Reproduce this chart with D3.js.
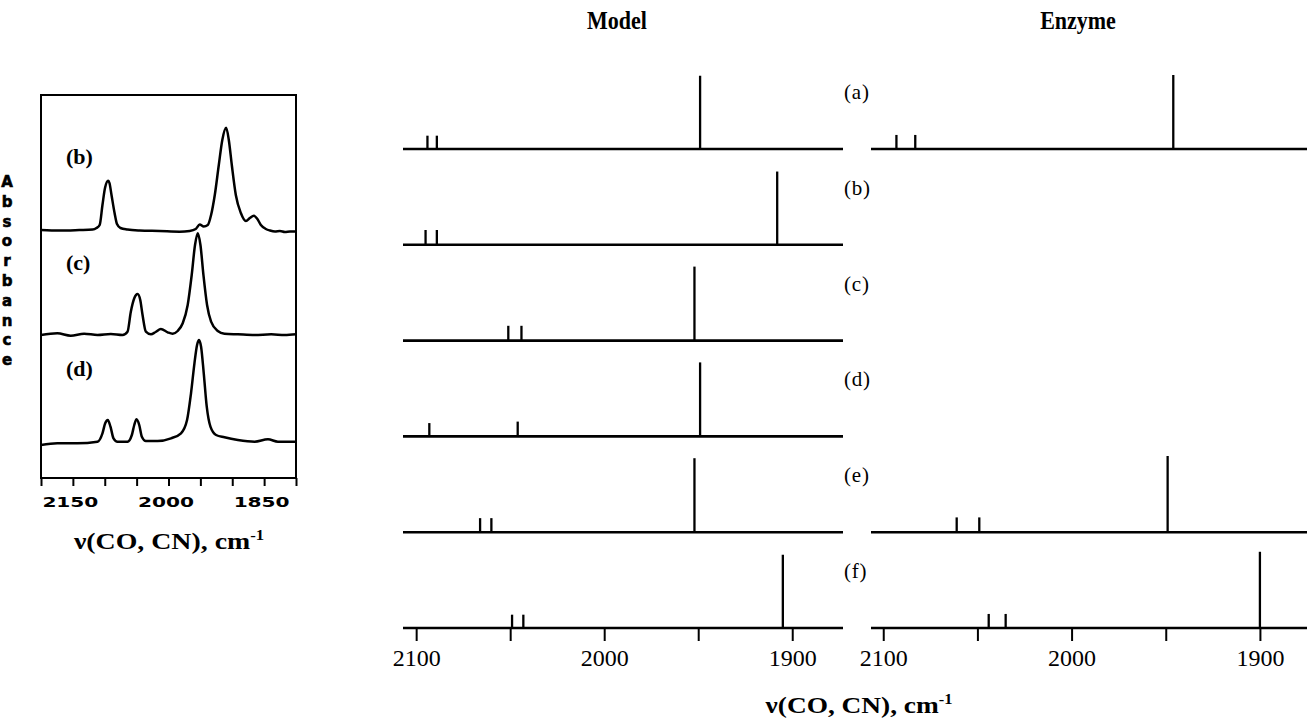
<!DOCTYPE html>
<html>
<head>
<meta charset="utf-8">
<script src="https://cdn.jsdelivr.net/npm/d3@7"></script>
<style>
  html, body { margin: 0; padding: 0; background: #fff; }
  svg { display: block; }
</style>
</head>
<body>
<script>
// ---------------- DATA ----------------
// Right panels: stick spectra (wavenumbers, cm-1) and relative intensities
const rowLabels = ["(a)", "(b)", "(c)", "(d)", "(e)", "(f)"];

const modelPeaks = [
  [2094, 2089, 1949],
  [2095, 2089, 1908],
  [2051, 2044, 1952],
  [2093, 2046, 1949],
  [2066, 2060, 1952],
  [2049, 2043, 1905]
];
const modelIntensities = [
  [0.18, 0.18, 0.99],
  [0.20, 0.20, 0.99],
  [0.20, 0.20, 1.00],
  [0.18, 0.20, 1.00],
  [0.19, 0.19, 1.00],
  [0.18, 0.18, 0.99]
];

const enzymePeaks = [
  [2093, 2083, 1946],
  [],
  [],
  [],
  [2061, 2049, 1949],
  [2044, 2035, 1900]
];
const enzymeIntensities = [
  [0.19, 0.19, 1.00],
  [],
  [],
  [],
  [0.20, 0.20, 1.03],
  [0.19, 0.19, 1.03]
];

const stickTicks = [2100, 2050, 2000, 1950, 1900];
const stickTickLabels = [2100, 2000, 1900];

// Left panel: measured IR spectra (wavenumber, absorbance above own baseline, arb. units)
const specLabels = ["(b)", "(c)", "(d)"];
const specOffsets = [248, 142, 36];

const specB_wn = [2200, 2171, 2140, 2119, 2113, 2108, 2103.6, 2099.6, 2094.6, 2092.6, 2089.4, 2084.6, 2080.8, 2075.3, 2064.3, 2045.4, 2013.9, 1982.5, 1966.7, 1957.3, 1951, 1944.7, 1938.4, 1933.2, 1927.4, 1921.1, 1915.6, 1909.6, 1905.4, 1900.7, 1894.4, 1886.5, 1878.6, 1872.4, 1866.1, 1860.6, 1855.1, 1847.2, 1840.9, 1833, 1825.2, 1817.3, 1809.4, 1800];
const specB_abs = [0, -0.5, 0, 0.5, 2, 5, 25, 42, 49.3, 47, 35, 17, 6, 2, 0.5, -0.5, -1, -1.7, -1, 1, 5.5, 3.5, 5, 15, 35, 65, 90, 102.3, 90, 65, 35, 17, 9, 12, 14.3, 11, 5, 1, -0.5, -1.5, -1, -2, -1.5, -1.5];

const specC_wn = [2200, 2174.4, 2153.4, 2132.4, 2111.4, 2090.5, 2072.1, 2064.3, 2059.1, 2053.7, 2048.5, 2044.3, 2040.7, 2035.5, 2027.6, 2020.2, 2011.9, 2001.3, 1993.5, 1985.6, 1977.7, 1969.9, 1963.6, 1958.4, 1954.1, 1949.9, 1945.2, 1939.5, 1933.2, 1922.7, 1912.2, 1891.2, 1864.9, 1838.9, 1817.8, 1800];
const specC_abs = [1, 2.7, 0.3, 2.3, 1, 2, 1, 4.3, 24.3, 37.7, 42, 36, 21, 4.3, 1.7, 4, 7, 3.7, 2.3, 5, 12.7, 31, 61, 91, 102.7, 91, 61, 31, 14.3, 5, 2.3, 1.7, 1, 1.7, 1, 1.7];

const specD_wn = [2200, 2174.4, 2142.9, 2111.4, 2103.6, 2099.3, 2095.2, 2091, 2086.3, 2080, 2064.3, 2057.5, 2053.7, 2050.1, 2045.9, 2041.8, 2035.5, 2017.1, 1996.1, 1980.4, 1970.9, 1964.7, 1959.3, 1955.2, 1952.1, 1948.9, 1944.7, 1940, 1934.2, 1925.4, 1912.2, 1891.2, 1864.9, 1844, 1828.3, 1800];
const specD_abs = [-3, -1.3, -1.3, 0.3, 8.7, 18.7, 22, 15.3, 3.7, 0.3, 0.3, 7, 17, 22.7, 17, 5.3, 1, 1, 3.7, 8.7, 22, 48.7, 78.7, 97, 102, 95.3, 68.7, 35.3, 15.3, 7, 4.7, 2, 0.3, 2.7, 0.3, 0.3];

const leftTicks = [2200, 2150, 2100, 2050, 2000, 1950, 1900, 1850, 1800];
const leftTickLabels = [2150, 2000, 1850];
const yAxisWord = "Absorbance";
const xAxisTitle = "\u03BD(CO, CN), cm";
const xAxisTitleSup = "-1";
const panelTitles = ["Model", "Enzyme"];

// ---------------- CHART ----------------
const W = 1307, H = 723;
const svg = d3.select("body").append("svg").attr("width", W).attr("height", H);
const serif = "'Liberation Serif', 'Times New Roman', serif";
const sans = "'DejaVu Sans', sans-serif";

// ----- Left panel -----
const xL = d3.scaleLinear().domain([2200, 1800]).range([41, 296]);
const yL = d3.scaleLinear().domain([0, 383]).range([478, 95]);

const left = svg.append("g");
left.append("rect")
  .attr("x", xL.range()[0]).attr("y", yL.range()[1])
  .attr("width", xL.range()[1] - xL.range()[0])
  .attr("height", yL.range()[0] - yL.range()[1])
  .attr("fill", "none").attr("stroke", "#000").attr("stroke-width", 2);

const specs = [
  { wn: specB_wn, ab: specB_abs },
  { wn: specC_wn, ab: specC_abs },
  { wn: specD_wn, ab: specD_abs }
];
const line = d3.line().curve(d3.curveMonotoneX);
specs.forEach((s, i) => {
  const pts = s.wn.map((w, j) => [xL(w), yL(s.ab[j] + specOffsets[i])]);
  pts.sort((a, b) => a[0] - b[0]);
  left.append("path")
    .attr("d", line(pts))
    .attr("fill", "none").attr("stroke", "#000")
    .attr("stroke-width", 2.5).attr("stroke-linejoin", "round");
  left.append("text")
    .attr("x", 66).attr("y", yL(specOffsets[i]) - 66)
    .attr("font-family", serif).attr("font-weight", "bold")
    .attr("font-size", 22).text(specLabels[i]);
});

const axL = left.append("g")
  .attr("transform", `translate(0,${yL.range()[0]})`)
  .call(d3.axisBottom(xL).tickValues(leftTicks).tickSize(8).tickSizeOuter(0).tickPadding(11)
    .tickFormat(d => leftTickLabels.includes(d) ? d : ""));
axL.select(".domain").remove();
axL.selectAll(".tick line").attr("stroke", "#000").attr("stroke-width", 2);
axL.selectAll(".tick text")
  .attr("fill", "#000").attr("dx", -3)
  .attr("font-family", sans).attr("font-weight", "bold").attr("font-size", 14)
  .filter(d => leftTickLabels.includes(d))
  .attr("textLength", 56).attr("lengthAdjust", "spacingAndGlyphs");

// vertical stacked "Absorbance"
left.append("g").selectAll("text").data(yAxisWord.split("")).join("text")
  .attr("x", 7).attr("y", (d, i) => 187 + i * 19.8)
  .attr("text-anchor", "middle")
  .attr("font-family", sans).attr("font-weight", "900").attr("font-size", 15)
  .attr("stroke", "#000").attr("stroke-width", 0.6)
  .text(d => d);

// axis title helper (scaled horizontally to match reference width)
function axisTitle(cx, y, size, sx) {
  const g = svg.append("g").attr("transform", `translate(${cx},${y}) scale(${sx},1)`);
  const t = g.append("text").attr("text-anchor", "middle")
    .attr("font-family", serif).attr("font-weight", "bold").attr("font-size", size);
  t.append("tspan").text(xAxisTitle);
  t.append("tspan").attr("font-size", size * 0.6).attr("dy", -size * 0.38).text(xAxisTitleSup);
}
axisTitle(169, 549, 24, 1.16);

// ----- Right stick panels -----
const yRow = d3.scalePoint().domain(rowLabels).range([149, 628]);
const hI = d3.scaleLinear().domain([0, 1]).range([0, 74]);

function stickPanel(xs, peaks, intens, drawAllBaselines) {
  const g = svg.append("g");
  rowLabels.forEach((r, i) => {
    const y0 = yRow(r);
    if (drawAllBaselines || peaks[i].length) {
      g.append("line")
        .attr("x1", xs.range()[0]).attr("x2", xs.range()[1])
        .attr("y1", y0).attr("y2", y0)
        .attr("stroke", "#000").attr("stroke-width", 2.6);
    }
    g.selectAll(null).data(peaks[i]).join("line")
      .attr("x1", d => xs(d)).attr("x2", d => xs(d))
      .attr("y1", y0).attr("y2", (d, j) => y0 - hI(intens[i][j]))
      .attr("stroke", "#000").attr("stroke-width", 2.3);
  });
  const ax = g.append("g")
    .attr("transform", `translate(0,${yRow(rowLabels[rowLabels.length - 1])})`)
    .call(d3.axisBottom(xs).tickValues(stickTicks).tickSize(13).tickSizeOuter(0).tickPadding(8)
      .tickFormat(d => stickTickLabels.includes(d) ? d : ""));
  ax.select(".domain").remove();
  ax.selectAll(".tick line").attr("stroke", "#000").attr("stroke-width", 2);
  ax.selectAll(".tick text").attr("fill", "#000")
    .attr("font-family", serif).attr("font-size", 24);
  return g;
}

const xModel = d3.scaleLinear().domain([2107, 1873]).range([403, 843]);
const xEnzyme = d3.scaleLinear().domain([2106.5, 1875]).range([871, 1307]);

stickPanel(xModel, modelPeaks, modelIntensities, true);
stickPanel(xEnzyme, enzymePeaks, enzymeIntensities, false);

// row labels
svg.append("g").selectAll("text").data(rowLabels).join("text")
  .attr("x", 844).attr("y", d => yRow(d) - 50)
  .attr("font-family", serif).attr("font-size", 21).attr("letter-spacing", 0.8)
  .text(d => d);

// titles
[617, 1078].forEach((cx, i) => {
  svg.append("g").attr("transform", `translate(${cx},29) scale(0.88,1)`)
    .append("text").attr("text-anchor", "middle")
    .attr("font-family", serif).attr("font-weight", "bold").attr("font-size", 25)
    .text(panelTitles[i]);
});

// bottom x label
axisTitle(859, 713, 24, 1.14);
</script>
</body>
</html>
